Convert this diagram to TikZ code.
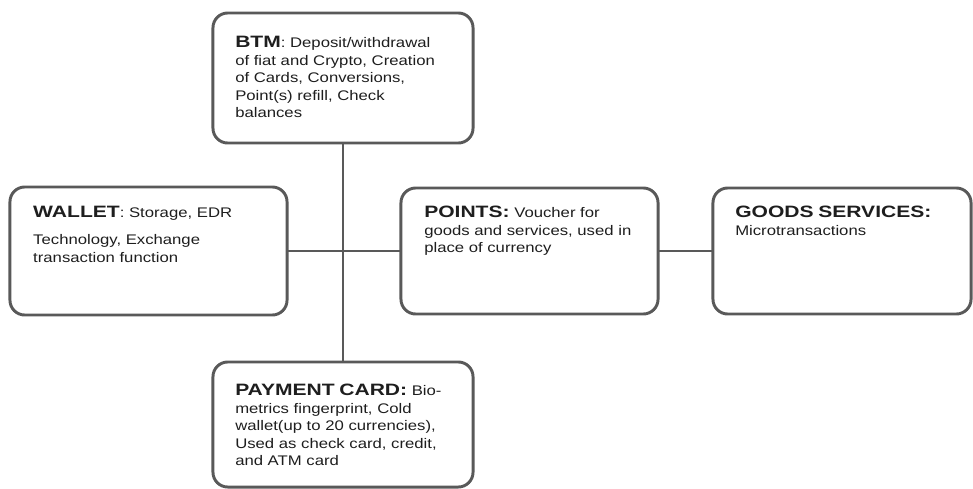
\documentclass[tikz,border=0pt]{standalone}
\usepackage{fontspec}
\setmainfont{Liberation Sans}
\newfontfamily\bodyfont[FakeStretch=1.2]{Liberation Sans}
\newfontfamily\headfont[FakeStretch=1.28]{Liberation Sans}
\definecolor{framegray}{HTML}{595959}
\definecolor{inkgray}{HTML}{1E1E1E}
\newcommand{\hd}[1]{{\headfont\bfseries\fontsize{11.7}{12.4}\selectfont #1}}

\begin{document}
\begin{tikzpicture}[x=0.025cm,y=-0.025cm,
  card/.style={draw=framegray,line width=2.1pt,rounded corners=10.5pt,inner sep=0pt,outer sep=0pt,fill=white},
  txt/.style={anchor=base west,inner sep=0pt,text width=6cm,align=left,text=inkgray,font=\bodyfont\fontsize{9.9}{12.4}\selectfont},
  link/.style={draw=framegray,line width=2.1pt}]
\useasboundingbox (0,0) rectangle (973,488);

\draw[link] (343,143) -- (343,362);
\draw[link] (287,251) -- (401,251);

\node[card,minimum width=6.5cm,minimum height=3.25cm] (btm) at (343,78) {};
\node[card,minimum width=6.925cm,minimum height=3.2cm] (wallet) at (148.5,251) {};
\node[card,minimum width=6.425cm,minimum height=3.15cm] (points) at (529.5,251) {};
\node[card,minimum width=6.45cm,minimum height=3.15cm] (goods) at (842,251) {};
\node[card,minimum width=6.5cm,minimum height=3.125cm] (card) at (343,424.5) {};

\draw[link] (points.east) -- (goods.west);

\node[txt] (btmtext) at ([shift={(22,35)}]btm.north west)
  {\hd{BTM}: Deposit/withdrawal\\of fiat and Crypto, Creation\\of Cards, Conversions,\\Point(s) refill, Check\\balances};
\node[txt] (wallettext) at ([shift={(23,31)}]wallet.north west)
  {\hd{WALLET}: Storage, EDR\\[6.5pt]Technology, Exchange\\transaction function};
\node[txt] (pointstext) at ([shift={(23,30)}]points.north west)
  {\hd{POINTS:} Voucher for\\goods and services, used in\\place of currency};
\node[txt] (goodstext) at ([shift={(22,30)}]goods.north west)
  {\hd{GOODS SERVICES:}\\Microtransactions};
\node[txt] (cardtext) at ([shift={(22,34)}]card.north west)
  {\hd{PAYMENT CARD:} Bio-\\metrics fingerprint, Cold\\wallet(up to 20 currencies),\\Used as check card, credit,\\and ATM card};
\end{tikzpicture}
\end{document}
